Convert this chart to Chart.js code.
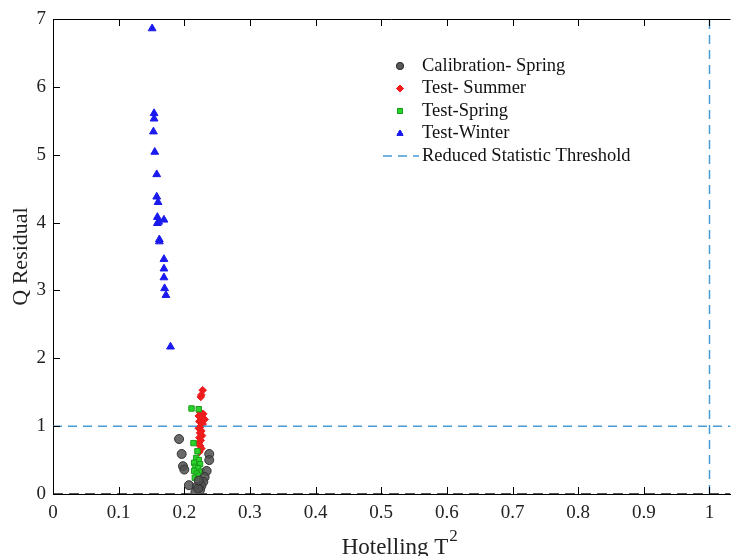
<!DOCTYPE html>
<html>
<head>
<meta charset="utf-8">
<script src="https://cdn.jsdelivr.net/npm/chart.js@4.4.1/dist/chart.umd.min.js"></script>
<style>
  body { margin: 0; background: #fff; }
  #wrap { width: 736px; height: 556px; }
</style>
</head>
<body>
<div id="wrap"><canvas id="qChart"></canvas></div>
<script>
// values
var calibX = [0.192, 0.196, 0.198, 0.200, 0.238, 0.238, 0.234, 0.231, 0.229, 0.207, 0.226, 0.219, 0.224, 0.217, 0.221, 0.222];
var calibY = [0.81, 0.59, 0.41, 0.36, 0.59, 0.50, 0.34, 0.25, 0.18, 0.13, 0.12, 0.11, 0.06, 0.03, 0.08, 0.20];

var summerX = [0.228, 0.226, 0.225, 0.224, 0.229, 0.222, 0.227, 0.231, 0.223, 0.228, 0.225, 0.222, 0.226, 0.224, 0.227, 0.223, 0.225, 0.222, 0.224, 0.226, 0.223];
var summerY = [1.53, 1.46, 1.43, 1.21, 1.18, 1.15, 1.12, 1.10, 1.07, 1.03, 1.00, 0.97, 0.93, 0.90, 0.86, 0.83, 0.79, 0.75, 0.71, 0.67, 0.62];

var springX = [0.211, 0.222, 0.214, 0.220, 0.218, 0.222, 0.215, 0.224, 0.217, 0.221, 0.215, 0.226, 0.219, 0.216, 0.222];
var springY = [1.26, 1.25, 0.75, 0.63, 0.53, 0.50, 0.46, 0.44, 0.40, 0.38, 0.34, 0.33, 0.30, 0.24, 0.27];

var winterX = [0.151, 0.154, 0.154, 0.153, 0.155, 0.158, 0.158, 0.160, 0.159, 0.169, 0.159, 0.161, 0.162, 0.162, 0.169, 0.169, 0.169, 0.170, 0.172, 0.179];
var winterY = [6.86, 5.61, 5.53, 5.34, 5.04, 4.71, 4.38, 4.30, 4.08, 4.04, 3.99, 4.01, 3.75, 3.72, 3.46, 3.32, 3.19, 3.03, 2.93, 2.17];

var xTicks = [0, 0.1, 0.2, 0.3, 0.4, 0.5, 0.6, 0.7, 0.8, 0.9, 1];
var yTicks = [0, 1, 2, 3, 4, 5, 6, 7];
var xMax = 1.032;
var qLimit = 1;
var t2Limit = 1;

function pts(xs, ys) {
  var out = [];
  for (var i = 0; i < xs.length; i++) out.push({x: xs[i], y: ys[i]});
  return out;
}

var serif = '"Liberation Serif", "Times New Roman", serif';
var blueDash = 'rgb(70, 155, 215)';

var legendItems = [
  {text: 'Calibration- Spring', style: 'circle', fill: '#5a5a5a', stroke: '#333'},
  {text: 'Test- Summer', style: 'rectRot', fill: '#ee1c1c', stroke: '#ee1c1c'},
  {text: 'Test-Spring', style: 'rect', fill: '#2ad42a', stroke: '#1a9a1a'},
  {text: 'Test-Winter', style: 'triangle', fill: '#1a1aee', stroke: '#1a1aee'},
  {text: 'Reduced Statistic Threshold', style: 'dash'}
];

// inward ticks, top frame, x title with superscript, legend
var extras = {
  id: 'extras',
  afterDraw: function(chart) {
    var ctx = chart.ctx;
    var xs = chart.scales.x, ys = chart.scales.y;
    var a = chart.chartArea;
    ctx.save();
    ctx.strokeStyle = '#000';
    ctx.lineWidth = 1;
    ctx.beginPath();
    xTicks.forEach(function(v) {
      var px = Math.round(xs.getPixelForValue(v)) + 0.5;
      ctx.moveTo(px, a.bottom); ctx.lineTo(px, a.bottom - 7);
      ctx.moveTo(px, a.top); ctx.lineTo(px, a.top + 7);
    });
    yTicks.forEach(function(v) {
      var py = Math.round(ys.getPixelForValue(v)) + 0.5;
      ctx.moveTo(a.left, py); ctx.lineTo(a.left + 7, py);
    });
    ctx.moveTo(a.left, a.top + 0.5); ctx.lineTo(a.right, a.top + 0.5);
    ctx.stroke();

    // x title
    ctx.fillStyle = '#222';
    ctx.textBaseline = 'alphabetic';
    ctx.font = '23px ' + serif;
    var main = 'Hotelling T';
    var w = ctx.measureText(main).width;
    var sx = 400 - w / 2 - 5;
    ctx.fillText(main, sx, 554);
    ctx.font = '17px ' + serif;
    ctx.fillText('2', sx + w + 1, 541);

    ctx.font = '18.5px ' + serif;
    ctx.textBaseline = 'middle';
    legendItems.forEach(function(it, i) {
      var cy = 66 + i * 22.5;
      var cx = 400;
      ctx.fillStyle = it.fill; ctx.strokeStyle = it.stroke;
      if (it.style == 'dash') {
        ctx.strokeStyle = blueDash; ctx.lineWidth = 1.5;
        ctx.setLineDash([9, 6]);
        ctx.beginPath(); ctx.moveTo(383, cy); ctx.lineTo(419, cy); ctx.stroke();
        ctx.setLineDash([]);
      } else {
        Chart.helpers.drawPoint(ctx, {pointStyle: it.style, radius: 3.5, borderWidth: 1}, cx, cy);
        ctx.fill(); ctx.stroke();
      }
      ctx.fillStyle = '#111';
      ctx.fillText(it.text, 422, cy);
    });
    ctx.restore();
  }
};

var ds = function(label, data, style, fill, stroke, r) {
  return {label: label, data: data, pointStyle: style, backgroundColor: fill,
    borderColor: stroke, borderWidth: 1, pointRadius: r, showLine: false};
};

new Chart(document.getElementById('qChart'), {
  type: 'scatter',
  data: {
    datasets: [
      {label: 'zero', type: 'line', data: [{x: 0, y: 0}, {x: xMax, y: 0}], borderColor: '#555',
        borderWidth: 2, borderDash: [10, 6], pointRadius: 0},
      {label: 'qlim', type: 'line', data: [{x: 0, y: qLimit}, {x: xMax, y: qLimit}], borderColor: blueDash,
        borderWidth: 1.5, borderDash: [9, 6], pointRadius: 0},
      {label: 'tlim', type: 'line', data: [{x: t2Limit, y: 0}, {x: t2Limit, y: 7}], borderColor: blueDash,
        borderWidth: 1.5, borderDash: [9, 6], pointRadius: 0},
      ds('Calibration- Spring', pts(calibX, calibY), 'circle', 'rgba(80,80,80,0.85)', '#333', 4.5),
      ds('Test-Spring', pts(springX, springY), 'rect', '#2ad42a', '#1a9a1a', 3.8),
      ds('Test- Summer', pts(summerX, summerY), 'rectRot', '#ee1c1c', '#ee1c1c', 3.8),
      ds('Test-Winter', pts(winterX, winterY), 'triangle', '#1a1aee', '#1a1aee', 4.5)
    ]
  },
  options: {
    responsive: true,
    maintainAspectRatio: false,
    animation: false,
    layout: {padding: {top: 19, right: 0, left: 0, bottom: 0}},
    plugins: {legend: {display: false}, tooltip: {enabled: false}},
    scales: {
      x: {
        type: 'linear', min: 0, max: xMax,
        afterFit: function(s) { s.height = 62; },
        afterBuildTicks: function(s) { s.ticks = xTicks.map(function(v) { return {value: v}; }); },
        grid: {display: false, drawTicks: false},
        border: {display: true, color: '#000', width: 1},
        ticks: {color: '#222', font: {family: serif, size: 19}, padding: 8, maxRotation: 0,
          includeBounds: false, callback: function(v) { return String(v); }},
        title: {display: false}
      },
      y: {
        type: 'linear', min: 0, max: 7,
        afterFit: function(s) { s.width = 53; },
        afterBuildTicks: function(s) { s.ticks = yTicks.map(function(v) { return {value: v}; }); },
        grid: {display: false, drawTicks: false},
        border: {display: true, color: '#000', width: 1},
        ticks: {color: '#222', font: {family: serif, size: 19}, padding: 7},
        title: {display: true, text: 'Q Residual', color: '#222', font: {family: serif, size: 22}, padding: {top: 8, bottom: 0}}
      }
    }
  },
  plugins: [extras]
});
</script>
</body>
</html>
